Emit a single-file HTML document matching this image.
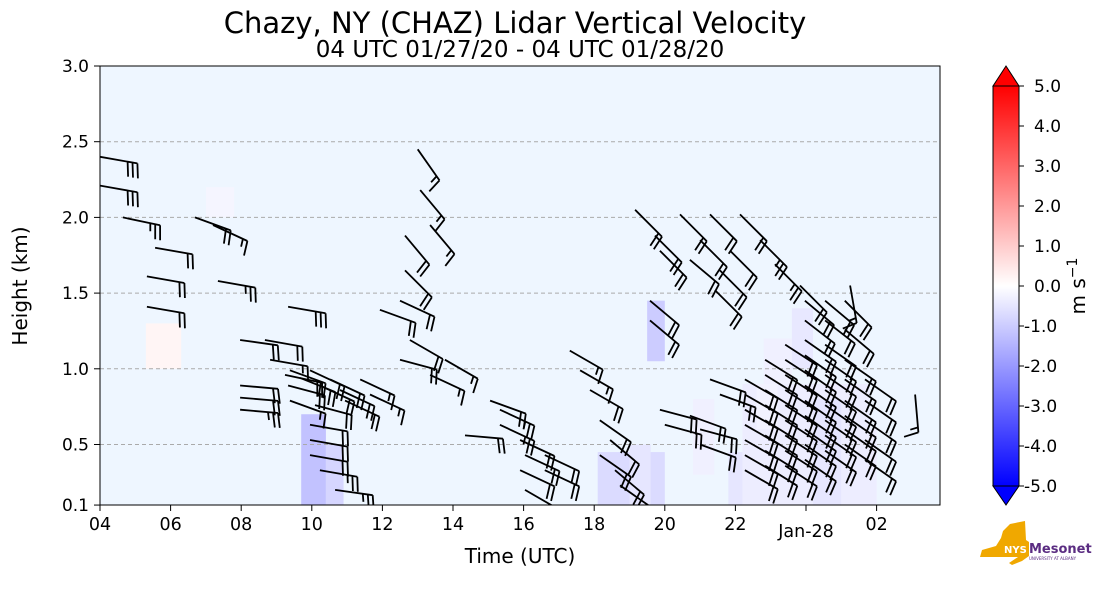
<!DOCTYPE html>
<html><head><meta charset="utf-8">
<style>
body{margin:0;background:#fff;}
svg{display:block;font-family:"DejaVu Sans","Liberation Sans",sans-serif;}
</style></head>
<body>
<svg id="chart" width="1101" height="600" viewBox="0 0 1101 600">
<defs>
<linearGradient id="cb" x1="0" y1="1" x2="0" y2="0">
<stop offset="0" stop-color="#0000ff"/><stop offset="0.5" stop-color="#ffffff"/><stop offset="1" stop-color="#ff0000"/>
</linearGradient>
<clipPath id="plotclip"><rect x="100" y="66" width="840" height="439"/></clipPath>
</defs>
<text x="515" y="33" font-size="29" text-anchor="middle">Chazy, NY (CHAZ) Lidar Vertical Velocity</text>
<text x="520" y="57" font-size="23" text-anchor="middle">04 UTC 01/27/20 - 04 UTC 01/28/20</text>
<rect x="100" y="66" width="840" height="439" fill="#eef6ff"/>
<g id="cells" clip-path="url(#plotclip)"></g>
<g id="grid"></g>
<g id="barbs" clip-path="url(#plotclip)"></g>
<rect x="100" y="66" width="840" height="439" fill="none" stroke="#000" stroke-width="1"/>
<g id="axes"></g>
<text transform="translate(27,286) rotate(-90)" font-size="20" text-anchor="middle">Height (km)</text>
<text x="520" y="563" font-size="20" text-anchor="middle">Time (UTC)</text>
<g>
<polygon points="993,86 1006,66 1019,86" fill="#ff0000" stroke="#000" stroke-width="1"/>
<polygon points="993,486 1006,505 1019,486" fill="#0000ff" stroke="#000" stroke-width="1"/>
<rect x="993" y="86" width="26" height="400" fill="url(#cb)" stroke="#000" stroke-width="1"/>
<g id="cbticks"></g>
<text transform="translate(1085,286) rotate(-90)" font-size="20" text-anchor="middle">m s<tspan dy="-8" font-size="14">−1</tspan></text>
</g>
<g>
<polygon points="1003,531 1010,524 1025,521 1026,540 1029,542 1029,556 1022,561 1012,565 1009,563 1018,557 980,557 982,550 996,546 1001,538" fill="#f0a800"/>
<text x="1004" y="553" font-size="10" font-weight="bold" fill="#fff">NYS</text>
<text x="1029" y="553" font-size="13" font-weight="bold" fill="#5b2d82">Mesonet</text>
<text x="1029" y="560" font-size="4" fill="#5b2d82">UNIVERSITY AT ALBANY</text>
</g>
</svg>
<script>
// wind barb data: hours after 04 UTC, height (km), speed (kt), direction (deg)
const barbTimes=[0,0,0.65,1.56,1.33,1.33,2.69,3.2,3.34,5.33,
3.97,4.67,3.97,3.97,3.97,4.82,5.24,5.33,5.38,
5.38,5.67,5.95,6.23,6.52,6.8,6.94,6.09,5.95,5.95,5.95,6.23,6.66,7.37,7.65,
9.0,8.64,8.64,8.5,7.93,8.78,8.5,9.35,9.77,9.07,9.35,
10.34,11.05,11.33,11.33,11.9,12.04,11.9,12.04,12.6,12.6,
13.31,13.6,13.88,14.16,14.45,14.16,14.59,14.73,
15.16,15.72,15.58,15.58,15.86,16.43,17.28,18.13,17.0,17.85,16.71,17.56,17.42,18.7,19.12,19.83,
15.86,16.0,16.71,17.0,17.0,17.28,17.56,
18.27,18.27,18.27,18.27,18.27,18.27,18.27,
18.84,18.84,18.84,18.84,18.84,18.84,18.84,18.84,
19.41,19.41,19.41,19.41,19.41,19.41,19.41,19.41,19.41,
19.97,19.97,19.97,19.97,19.97,19.97,19.97,19.97,19.97,19.97,19.97,
20.54,20.54,20.54,20.54,20.54,20.54,20.54,20.54,20.54,20.54,
21.1,21.1,21.1,21.1,21.1,21.1,21.1,21.1,
21.67,21.67,21.67,21.67,21.67,
21.25,23.09];
const barbHeights=[2.40,2.21,2.00,1.80,1.61,1.41,2.00,1.95,1.58,1.41,
1.19,1.19,0.89,0.81,0.73,1.06,0.96,0.89,0.79,
0.99,0.94,0.99,0.89,0.93,0.86,0.79,0.76,0.63,0.53,0.43,0.33,0.20,0.93,0.83,
2.45,1.88,1.65,1.45,1.39,1.19,1.06,0.96,1.06,2.18,1.95,
0.56,0.79,0.73,0.63,0.53,0.43,0.33,0.20,0.43,0.33,
1.12,0.99,0.86,0.66,0.53,0.43,0.33,0.23,
2.05,1.88,1.45,1.32,1.78,2.02,2.02,2.02,1.85,1.78,1.72,1.65,1.52,1.85,1.69,1.55,
0.73,0.63,0.69,0.60,0.50,0.93,0.83,
0.93,0.83,0.73,0.63,0.53,0.43,0.33,
1.06,0.96,0.86,0.76,0.66,0.56,0.46,0.36,
1.16,1.06,0.96,0.86,0.76,0.66,0.56,0.46,0.36,
1.45,1.32,1.19,1.09,0.99,0.89,0.79,0.69,0.60,0.50,0.40,
1.45,1.32,1.16,1.06,0.96,0.86,0.76,0.66,0.56,0.46,
1.45,1.26,1.06,0.93,0.79,0.69,0.60,0.50,
0.93,0.79,0.66,0.53,0.40,
1.55,0.83];
const barbSpeeds=[30,30,25,20,20,20,20,15,25,30,
20,20,20,20,25,15,20,20,15,
20,20,20,20,20,20,20,20,20,20,20,25,25,15,15,
15,20,20,20,20,20,20,15,15,15,15,
20,20,25,25,20,20,20,20,20,20,
15,15,20,20,20,20,20,20,
20,20,20,20,20,20,20,20,20,20,20,20,20,25,25,20,
20,20,20,20,20,20,20,
20,20,20,20,20,20,20,
20,20,20,20,20,20,20,20,
20,20,20,20,20,20,20,20,20,
20,20,20,20,20,20,20,20,20,20,20,
20,20,20,20,20,20,20,20,20,20,
20,20,20,20,20,20,20,20,
20,20,20,20,20,
15,15];
const barbDirs=[100,100,102,100,100,100,110,115,100,100,
98,100,95,95,95,100,102,105,110,
110,112,115,115,115,115,115,105,100,100,100,100,98,115,115,
145,140,135,115,110,120,105,115,120,140,140,
95,110,115,115,115,115,115,120,115,115,
120,120,120,125,130,125,130,125,
135,135,130,130,135,135,135,135,135,135,130,135,135,135,135,135,
105,105,110,105,110,110,110,
120,120,120,120,120,120,120,
122,122,122,122,122,122,122,122,
123,123,123,123,123,123,123,123,123,
130,128,125,125,125,125,125,125,125,125,125,
130,128,125,125,125,125,125,125,125,125,
135,130,125,125,125,125,125,125,
125,125,125,125,125,
170,175];
// vertical velocity patches: start/end hour, bottom/top km, value m/s
const cellT0=[5.7,6.4,14.1,15.5,15.0,17.8,18.2,18.8,19.6,20.2,21.0,16.8,18.6,1.3,3.0];
const cellT1=[6.4,6.9,16.0,16.0,15.6,18.8,21.8,19.6,20.2,21.0,22.0,17.4,19.2,2.3,3.8];
const cellH0=[0.1,0.1,0.1,1.05,0.1,0.1,0.1,0.9,1.0,0.1,0.1,0.3,0.6,1.0,2.0];
const cellH1=[0.7,0.5,0.45,1.45,0.5,0.45,0.9,1.2,1.4,0.8,0.6,0.8,0.9,1.3,2.2];
const cellV=[-1.2,-0.8,-0.7,-1.0,-0.5,-0.5,-0.35,-0.3,-0.45,-0.5,-0.35,-0.3,-0.25,0.2,-0.2];
const xTickHours=[0,2,4,6,8,10,12,14,16,18,20,22];
const xTickLabels=["04","06","08","10","12","14","16","18","20","22","Jan-28","02"];
const yTicks=[0.1,0.5,1.0,1.5,2.0,2.5,3.0];
const cbTicks=[5,4,3,2,1,0,-1,-2,-3,-4,-5];

const NS="http://www.w3.org/2000/svg";
function xS(t){return 100+t*35.3;}
function yS(h){return 66+(3.0-h)*151.4;}
function cbY(v){return 286-v*40;}
function mk(tag,attrs,parent){const e=document.createElementNS(NS,tag);for(const k in attrs)e.setAttribute(k,attrs[k]);parent.appendChild(e);return e;}
function color(v){const f=Math.min(1,Math.abs(v)/5);const c=Math.round(255*(1-f));return v<0?`rgb(${c},${c},255)`:`rgb(255,${c},${c})`;}

const cells=document.getElementById('cells');
for(let i=0;i<cellV.length;i++){
  const r=mk('rect',{x:xS(cellT0[i]),y:yS(cellH1[i]),width:xS(cellT1[i])-xS(cellT0[i]),height:yS(cellH0[i])-yS(cellH1[i]),fill:color(cellV[i])},cells);
  
  
}
const grid=document.getElementById('grid');
const axes=document.getElementById('axes');
yTicks.forEach(h=>{
  if(h>0.1&&h<3.0){const l=mk('line',{x1:100,x2:940,y1:yS(h),y2:yS(h),stroke:'#aaa','stroke-dasharray':'4,3','stroke-width':1},grid);
  
  }
  const tk=mk('line',{x1:94,x2:100,y1:yS(h),y2:yS(h),stroke:'#000'},axes);
  
  
  const t=mk('text',{x:89,y:yS(h)+6,'font-size':17,'text-anchor':'end'},axes);
  t.textContent=h.toFixed(1);
  
  
});
xTickHours.forEach((hr,i)=>{
  const tk=mk('line',{x1:xS(hr),x2:xS(hr),y1:505,y2:511,stroke:'#000'},axes);
  
  
  const t=mk('text',{x:xS(hr),y:xTickLabels[i].length>2?537:530,'font-size':17.5,'text-anchor':'middle'},axes);
  t.textContent=xTickLabels[i];
  
  
});
const cbt=document.getElementById('cbticks');
cbTicks.forEach(v=>{
  const tk=mk('line',{x1:1019,x2:1024,y1:cbY(v),y2:cbY(v),stroke:'#000'},cbt);
  
  
  const t=mk('text',{x:v<0?1024:1034,y:cbY(v)+6,'font-size':17},cbt);
  t.textContent=(v<0?'-':'')+Math.abs(v).toFixed(1);
  
  
});
const bg=document.getElementById('barbs');
for(let i=0;i<barbTimes.length;i++){
  const x0=xS(barbTimes[i]),y0=yS(barbHeights[i]);
  const a=(barbDirs[i]-90)*Math.PI/180;
  const L=38,dx=Math.cos(a),dy=Math.sin(a);
  const x1=x0+L*dx,y1=y0+L*dy;
  const fa=a+78*Math.PI/180,fx=Math.cos(fa),fy=Math.sin(fa);
  let d=`M${x0.toFixed(1)},${y0.toFixed(1)}L${x1.toFixed(1)},${y1.toFixed(1)}`;
  let s=barbSpeeds[i],k=0;
  while(s>=10){const px=x1-k*5*dx,py=y1-k*5*dy;d+=`M${px.toFixed(1)},${py.toFixed(1)}l${(15*fx).toFixed(1)},${(15*fy).toFixed(1)}`;s-=10;k++;}
  if(s>=5){const px=x1-k*5*dx,py=y1-k*5*dy;d+=`M${px.toFixed(1)},${py.toFixed(1)}l${(8*fx).toFixed(1)},${(8*fy).toFixed(1)}`;}
  const p=mk('path',{d:d,stroke:'#000','stroke-width':1.8,fill:'none'},bg);
  
  
}
</script>
</body></html>
